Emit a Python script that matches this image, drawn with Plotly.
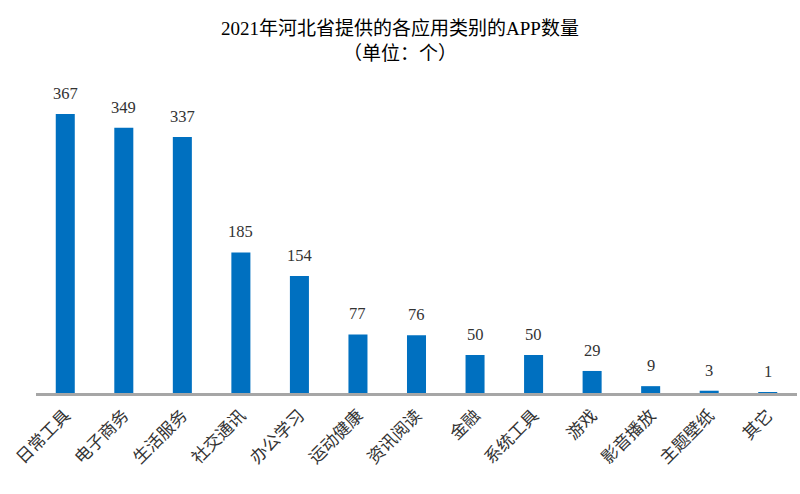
import plotly.graph_objects as go

categories = ["日常工具", "电子商务", "生活服务", "社交通讯", "办公学习", "运动健康", "资讯阅读",
              "金融", "系统工具", "游戏", "影音播放", "主题壁纸", "其它"]
values = [367, 349, 337, 185, 154, 77, 76, 50, 50, 29, 9, 3, 1]

font_family = "Liberation Serif, Noto Sans CJK SC, serif"

fig = go.Figure(go.Bar(
    x=categories, y=values,
    marker=dict(color="#0070C0", line=dict(width=0)),
    cliponaxis=False,
))

for c, v in zip(categories, values):
    fig.add_annotation(
        x=c, y=v, text=str(v), showarrow=False,
        xanchor="center", yanchor="bottom", yshift=9,
        font=dict(family=font_family, size=16.5, color="#333333"),
    )

fig.update_layout(
    width=800, height=494,
    margin=dict(l=36, r=3, t=89, b=101, autoexpand=False),
    paper_bgcolor="white", plot_bgcolor="white",
    bargap=0.675,
    showlegend=False,
    title=dict(
        text="2021年河北省提供的各应用类别的APP数量<br>（单位：个）",
        x=0.5, xanchor="center", y=0.929, yanchor="top",
        font=dict(family=font_family, size=19, color="#000000"),
    ),
    xaxis=dict(
        tickangle=-45, automargin=False,
        tickfont=dict(family=font_family, size=17, color="#333333"),
        ticklabelstandoff=3,
        showline=True, linecolor="#A6A6A6", linewidth=2.5,
        showgrid=False, ticks="",
    ),
    yaxis=dict(
        range=[0, 400], visible=False, showgrid=False, zeroline=False,
        automargin=False,
    ),
)

fig.write_html("out.html", config={"displayModeBar": False},
               post_script="document.body.style.margin='0';")
